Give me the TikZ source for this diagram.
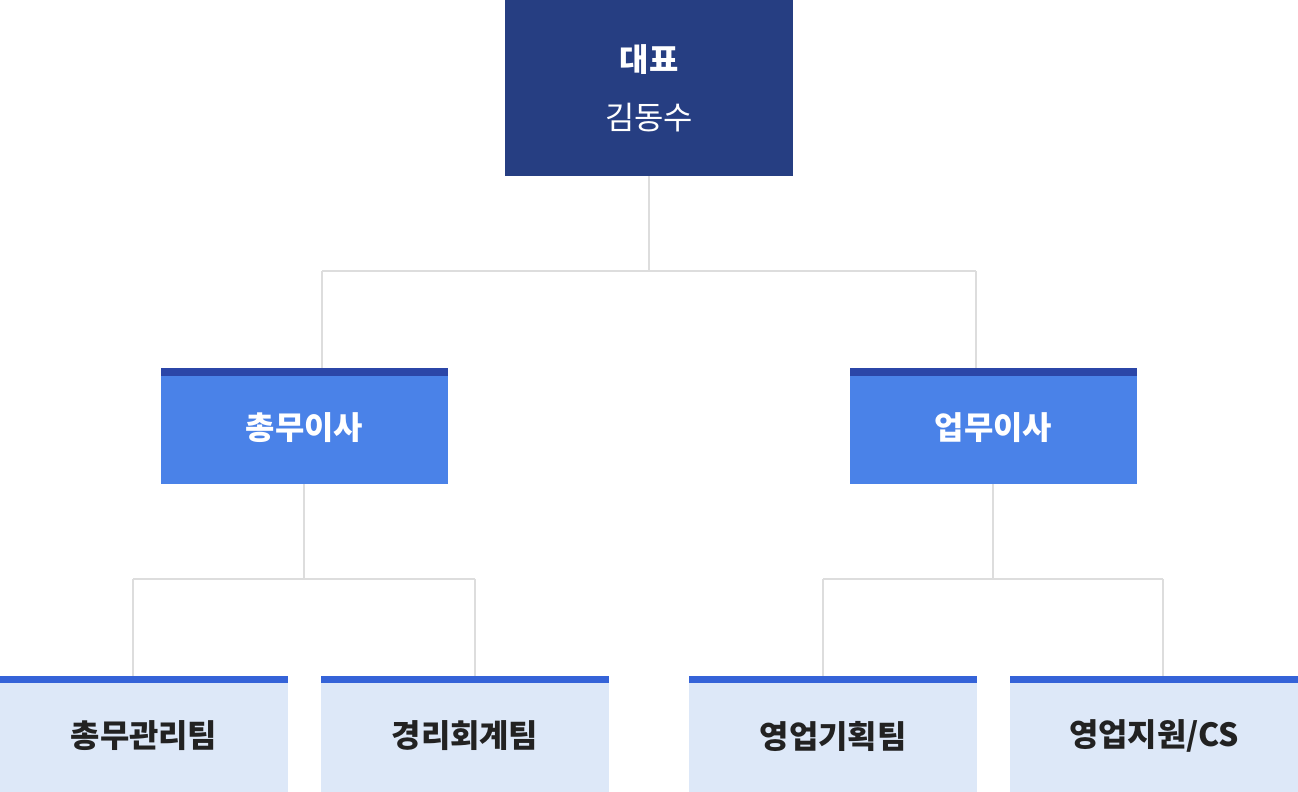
\documentclass[tikz,border=0pt]{standalone}
\usepackage{fontspec}
\setmainfont{Noto Sans CJK KR}
\begin{document}
\begin{tikzpicture}[x=1bp,y=-1bp,
  line/.style={draw=linec,line width=2bp},
  txt/.style={font=\fontsize{32}{36}\selectfont\bfseries}]
\definecolor{navy}{HTML}{263E82}
\definecolor{midf}{HTML}{4A82E8}
\definecolor{midt}{HTML}{2B46A8}
\definecolor{lowf}{HTML}{DDE8F8}
\definecolor{lowt}{HTML}{3563D8}
\definecolor{linec}{HTML}{DDDDDD}
\definecolor{dark}{HTML}{222222}
\useasboundingbox (0,0) rectangle (1298,792);
% lines
\coordinate (t) at (649,176);
\coordinate (tj) at (649,271);
\coordinate (l1) at (322,271);\coordinate (r1) at (976,271);
\coordinate (l1b) at (322,368);\coordinate (r1b) at (976,368);
\draw[line] (t)--(tj) (l1)--(r1) (l1)--(l1b) (r1)--(r1b);
\coordinate (m1) at (304,484);\coordinate (m1j) at (304,579);
\coordinate (a) at (133,579);\coordinate (b) at (475,579);
\coordinate (ab) at (133,676);\coordinate (bb) at (475,676);
\draw[line] (m1)--(m1j) (a)--(b) (a)--(ab) (b)--(bb);
\coordinate (m2) at (993,484);\coordinate (m2j) at (993,579);
\coordinate (c) at (823,579);\coordinate (d) at (1163,579);
\coordinate (cb) at (823,676);\coordinate (db) at (1163,676);
\draw[line] (m2)--(m2j) (c)--(d) (c)--(cb) (d)--(db);
% top
\fill[navy] (505,0) rectangle (793,176);
\node[txt,text=white] (ceo) at (649,60) {대표};
\node[font=\fontsize{32}{36}\selectfont,text=white] (ceoname) at (649,118) {김동수};
% mid
\foreach \x/\n/\t in {161/gm/총무이사, 850/bm/업무이사}{
  \fill[midf] (\x,368) rectangle ++(287,116);
  \fill[midt] (\x,368) rectangle ++(287,8);
  \node[txt,text=white] (\n) at (\x+143.5,428) {\t};
}
% bottom
\foreach \x/\n/\t in {0/b1/총무관리팀, 321/b2/경리회계팀, 689/b3/영업기획팀, 1010/b4/{영업지원/CS}}{
  \fill[lowf] (\x,676) rectangle ++(288,116);
  \fill[lowt] (\x,676) rectangle ++(288,7);
  \node[txt,text=dark] (\n) at (\x+144,736) {\t};
}
\end{tikzpicture}
\end{document}
